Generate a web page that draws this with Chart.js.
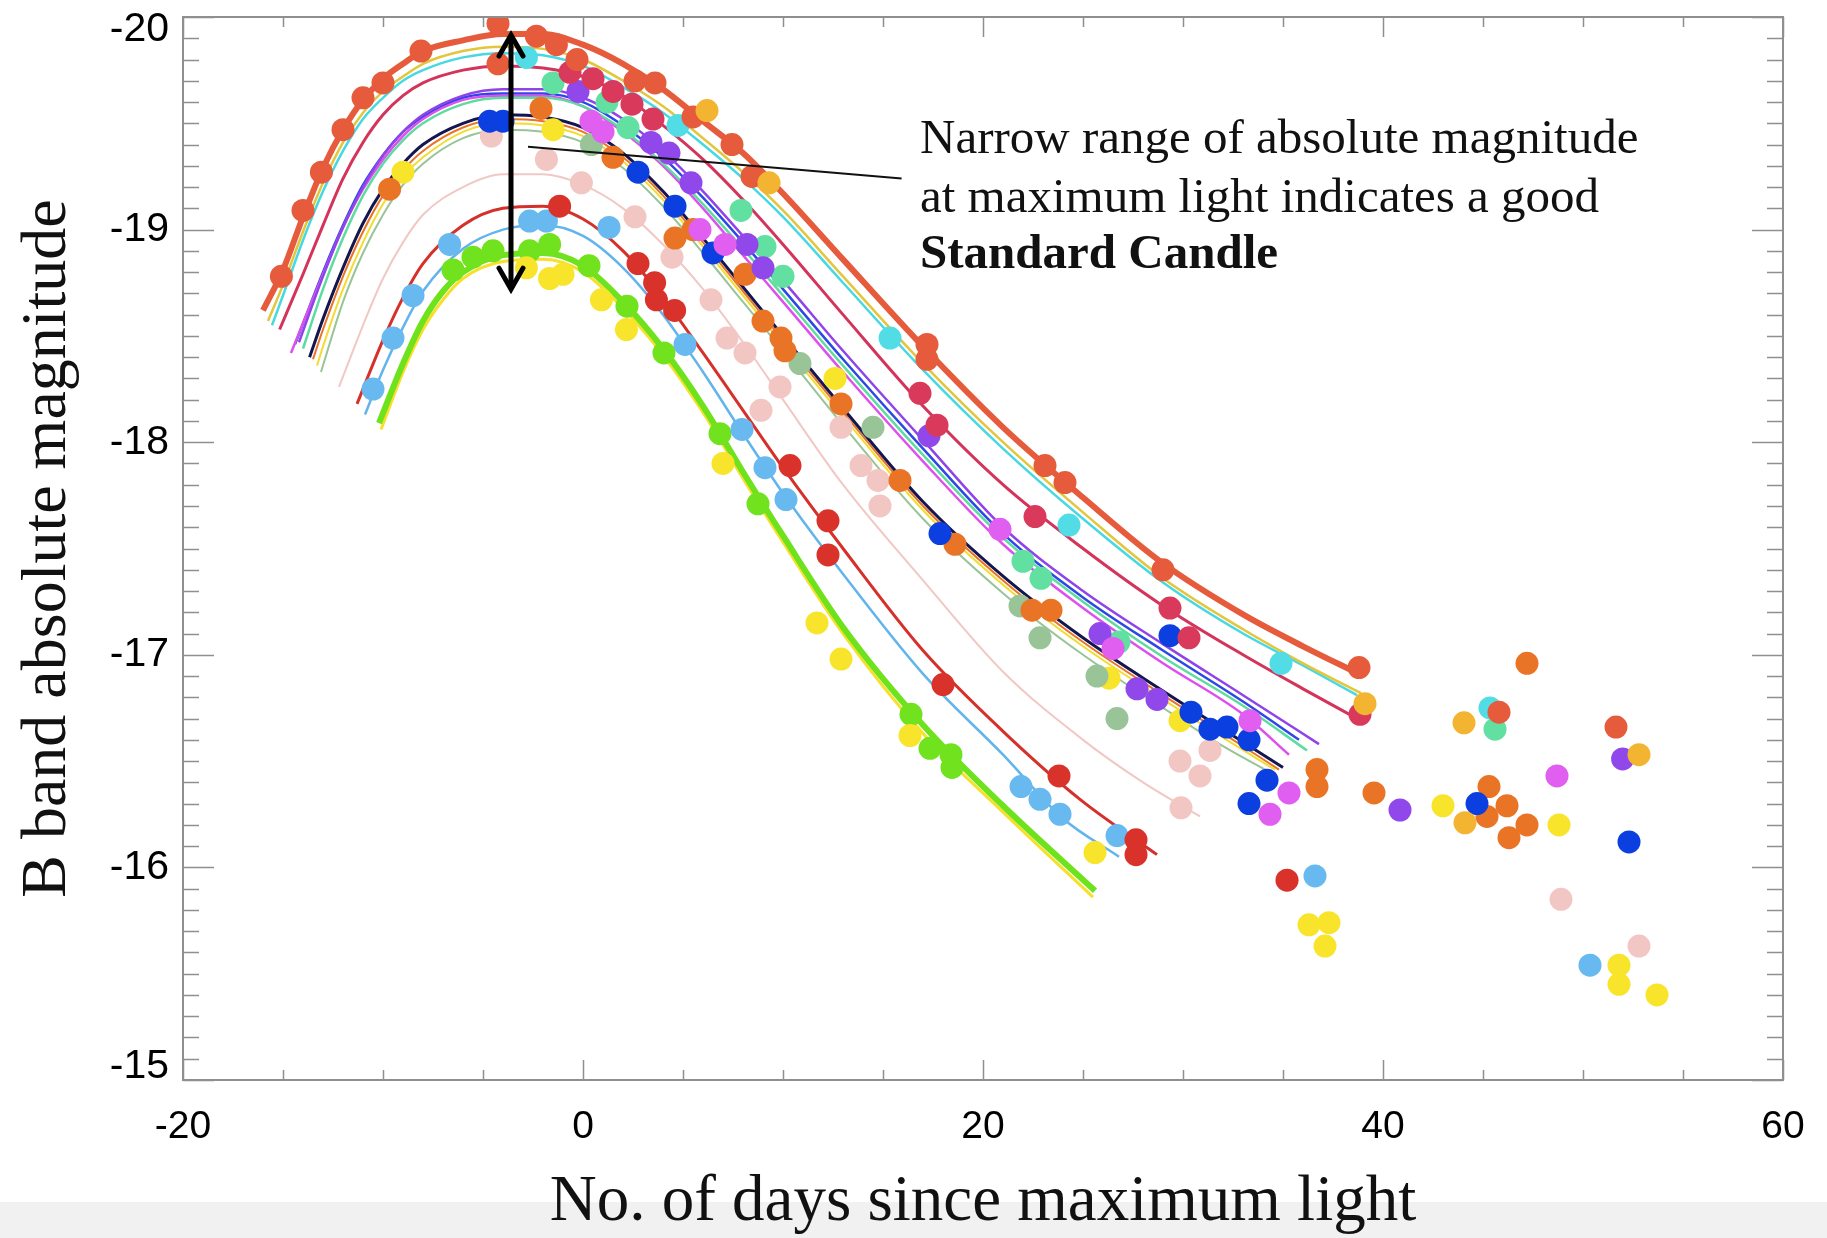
<!DOCTYPE html>
<html>
<head>
<meta charset="utf-8">
<script src="https://cdn.jsdelivr.net/npm/chart.js@4.4.1/dist/chart.umd.min.js"></script>
<style>
  html, body { margin: 0; padding: 0; background: #ffffff; }
  canvas { display: block; }
</style>
</head>
<body>
<canvas id="lightCurves" width="1827" height="1238"></canvas>
<script>
// ---- Axis ticks -------------------------------------------------------
const dayTicks = [-20, 0, 20, 40, 60];
const magTicks = [-20, -19, -18, -17, -16, -15];

// ---- Fitted light-curve templates: [day since maximum, B magnitude] ----
const tomatoFit = [[-16,-18.62],[-15,-18.81],[-14,-19.06],[-13,-19.29],[-12,-19.47],[-11,-19.61],[-10,-19.71],[-9,-19.78],[-8,-19.84],[-6,-19.89],[-4,-19.92],[-2,-19.92],[0,-19.87],[2,-19.78],[4,-19.66],[6,-19.51],[8,-19.36],[10,-19.17],[13,-18.86],[17,-18.45],[21,-18.07],[25,-17.74],[29,-17.43],[33,-17.19],[36,-17.04],[38.8,-16.91]];
const goldFit = [[-15.75,-18.57],[-15,-18.74],[-14,-18.99],[-13,-19.22],[-12,-19.41],[-11,-19.55],[-10,-19.65],[-9,-19.72],[-8,-19.78],[-6,-19.84],[-4,-19.86],[-2,-19.85],[0,-19.80],[2,-19.70],[4,-19.58],[6,-19.43],[8,-19.27],[10,-19.09],[13,-18.78],[17,-18.37],[21,-18.00],[25,-17.67],[29,-17.36],[33,-17.12],[36,-16.96],[38.9,-16.82]];
const cyanFit = [[-15.55,-18.55],[-15,-18.69],[-14,-18.95],[-13,-19.18],[-12,-19.37],[-11,-19.52],[-10,-19.62],[-9,-19.70],[-8,-19.75],[-6,-19.81],[-4,-19.83],[-2,-19.82],[0,-19.77],[2,-19.67],[4,-19.55],[6,-19.40],[8,-19.24],[10,-19.06],[13,-18.75],[17,-18.34],[21,-17.97],[25,-17.64],[29,-17.34],[33,-17.10],[36,-16.95],[38.7,-16.81]];
const crimsonFit = [[-15.17,-18.53],[-14,-18.79],[-13,-19.02],[-12,-19.24],[-11,-19.41],[-10,-19.54],[-9,-19.63],[-8,-19.69],[-6,-19.75],[-4,-19.77],[-2,-19.76],[0,-19.72],[2,-19.63],[4,-19.49],[6,-19.33],[8,-19.14],[10,-18.93],[13,-18.60],[17,-18.17],[21,-17.80],[25,-17.50],[29,-17.23],[33,-17.00],[36,-16.84],[38.9,-16.69]];
const magentaFit = [[-14.6,-18.42],[-13,-18.79],[-12,-19.01],[-11,-19.19],[-10,-19.33],[-9,-19.44],[-8,-19.52],[-6,-19.61],[-4,-19.63],[-2,-19.63],[0,-19.58],[2,-19.46],[4,-19.30],[6,-19.10],[8,-18.88],[10,-18.66],[13,-18.33],[17,-17.91],[21,-17.52],[25,-17.22],[29,-16.96],[33,-16.72],[35.3,-16.53]];
const blueFit = [[-14.4,-18.46],[-13,-18.80],[-12,-19.02],[-11,-19.21],[-10,-19.35],[-9,-19.46],[-8,-19.53],[-6,-19.62],[-4,-19.64],[-2,-19.64],[0,-19.60],[2,-19.49],[4,-19.34],[6,-19.15],[8,-18.94],[10,-18.72],[13,-18.39],[17,-17.97],[21,-17.57],[25,-17.27],[29,-17.02],[33,-16.78],[35.8,-16.60]];
const purpleFit = [[-14.2,-18.47],[-13,-18.78],[-12,-19.01],[-11,-19.20],[-10,-19.35],[-9,-19.46],[-8,-19.54],[-6,-19.63],[-4,-19.66],[-2,-19.66],[0,-19.62],[2,-19.52],[4,-19.37],[6,-19.18],[8,-18.97],[10,-18.76],[13,-18.43],[17,-18.01],[21,-17.60],[25,-17.30],[29,-17.05],[33,-16.81],[36.8,-16.58]];
const mintFit = [[-14.0,-18.44],[-13,-18.72],[-12,-18.96],[-11,-19.16],[-10,-19.31],[-9,-19.42],[-8,-19.50],[-6,-19.59],[-4,-19.62],[-2,-19.62],[0,-19.58],[2,-19.47],[4,-19.31],[6,-19.12],[8,-18.91],[10,-18.69],[13,-18.36],[17,-17.94],[21,-17.55],[25,-17.25],[29,-16.99],[33,-16.76],[36.2,-16.55]];
const navyFit = [[-13.67,-18.40],[-13,-18.58],[-12,-18.82],[-11,-19.03],[-10,-19.19],[-9,-19.31],[-8,-19.40],[-6,-19.50],[-4,-19.54],[-2,-19.53],[0,-19.48],[2,-19.36],[4,-19.18],[6,-18.96],[8,-18.73],[10,-18.50],[13,-18.16],[17,-17.72],[21,-17.37],[25,-17.08],[29,-16.83],[32,-16.65],[35,-16.47]];
const orangeFit = [[-13.5,-18.39],[-13,-18.53],[-12,-18.78],[-11,-18.99],[-10,-19.16],[-9,-19.28],[-8,-19.37],[-6,-19.48],[-4,-19.52],[-2,-19.51],[0,-19.46],[2,-19.34],[4,-19.16],[6,-18.94],[8,-18.71],[10,-18.48],[13,-18.14],[17,-17.70],[21,-17.35],[25,-17.06],[29,-16.81],[32,-16.63],[34.8,-16.46]];
const lemonFit = [[-13.3,-18.36],[-13,-18.45],[-12,-18.72],[-11,-18.94],[-10,-19.12],[-9,-19.25],[-8,-19.34],[-6,-19.46],[-4,-19.50],[-2,-19.49],[0,-19.44],[2,-19.32],[4,-19.14],[6,-18.92],[8,-18.69],[10,-18.46],[13,-18.12],[17,-17.68],[21,-17.33],[25,-17.04],[29,-16.79],[32,-16.61],[34.6,-16.46]];
const sageFit = [[-13.1,-18.33],[-12,-18.66],[-11,-18.89],[-10,-19.07],[-9,-19.21],[-8,-19.31],[-6,-19.43],[-4,-19.47],[-2,-19.46],[0,-19.41],[2,-19.29],[4,-19.11],[6,-18.89],[8,-18.66],[10,-18.43],[13,-18.08],[17,-17.64],[21,-17.29],[25,-17.00],[29,-16.75],[32,-16.57],[34.3,-16.45]];
const pinkFit = [[-12.2,-18.26],[-11,-18.55],[-10,-18.77],[-9,-18.94],[-8,-19.07],[-6,-19.20],[-4,-19.26],[-2,-19.26],[0,-19.21],[2,-19.10],[4,-18.93],[6,-18.72],[8,-18.47],[10,-18.20],[13,-17.80],[17,-17.35],[21,-16.92],[25,-16.60],[28,-16.40],[30.85,-16.24]];
const redFit = [[-11.3,-18.18],[-10,-18.48],[-9,-18.68],[-8,-18.84],[-6,-19.02],[-4,-19.10],[-2,-19.11],[0,-19.05],[2,-18.90],[4,-18.68],[6,-18.42],[8,-18.15],[10,-17.88],[13,-17.50],[17,-17.02],[21,-16.64],[24.85,-16.32],[28.7,-16.06]];
const skyFit = [[-10.9,-18.13],[-10,-18.34],[-9,-18.54],[-8,-18.71],[-6,-18.91],[-4,-19.00],[-2,-19.02],[0,-18.97],[2,-18.82],[4,-18.60],[6,-18.33],[8,-18.04],[10,-17.76],[13,-17.38],[17,-16.91],[21,-16.53],[24,-16.23],[26.8,-16.05]];
const greenFit = [[-10.2,-18.09],[-9,-18.37],[-8,-18.57],[-7,-18.71],[-6,-18.80],[-4,-18.88],[-2,-18.89],[0,-18.83],[2,-18.66],[4,-18.44],[6,-18.17],[8,-17.86],[10,-17.56],[13,-17.13],[17,-16.67],[21,-16.29],[25.6,-15.89]];
const yellowFit = [[-10.1,-18.06],[-9,-18.33],[-8,-18.53],[-7,-18.67],[-6,-18.77],[-4,-18.85],[-2,-18.86],[0,-18.80],[2,-18.63],[4,-18.41],[6,-18.14],[8,-17.83],[10,-17.53],[13,-17.10],[17,-16.63],[21,-16.26],[25.5,-15.86]];

// ---- Observed photometry: [day since maximum, B magnitude] ------------
const tomatoObs = [[-15.08,-18.78],[-14.0,-19.09],[-13.08,-19.27],[-12.0,-19.47],[-11.0,-19.62],[-10.0,-19.69],[-8.1,-19.84],[-4.25,-19.97],[-4.25,-19.78],[-2.33,-19.91],[-1.33,-19.87],[-0.3,-19.80],[2.6,-19.70],[3.6,-19.69],[5.5,-19.53],[7.45,-19.40],[8.45,-19.25],[17.2,-18.46],[17.2,-18.39],[23.1,-17.89],[24.1,-17.81],[29.0,-17.40],[38.8,-16.94],[45.8,-16.73],[51.65,-16.66]];
const goldObs = [[6.2,-19.56],[9.3,-19.22],[39.1,-16.77],[44.05,-16.68],[44.1,-16.21],[52.8,-16.53]];
const crimsonObs = [[-0.65,-19.74],[0.5,-19.71],[1.5,-19.65],[2.45,-19.59],[3.5,-19.52],[16.85,-18.23],[17.7,-18.08],[22.6,-17.65],[29.35,-17.22],[30.3,-17.08],[38.85,-16.72]];
const cyanObs = [[-2.83,-19.81],[4.75,-19.49],[15.35,-18.49],[24.3,-17.61],[34.9,-16.96],[45.35,-16.75]];
const mintObs = [[-1.5,-19.69],[1.2,-19.60],[2.25,-19.48],[7.9,-19.09],[9.1,-18.92],[10.0,-18.78],[22.0,-17.44],[22.9,-17.36],[26.8,-17.06],[45.6,-16.65]];
const purpleObs = [[-0.25,-19.65],[3.4,-19.41],[4.3,-19.36],[5.4,-19.22],[8.2,-18.93],[9.0,-18.82],[17.3,-18.03],[25.85,-17.10],[27.7,-16.84],[28.7,-16.79],[40.85,-16.27],[51.98,-16.51]];
const magentaObs = [[0.4,-19.51],[1.0,-19.46],[5.85,-19.00],[7.1,-18.93],[20.85,-17.59],[26.5,-17.03],[33.35,-16.69],[35.3,-16.35],[34.35,-16.25],[48.7,-16.43]];
const blueObs = [[-4.67,-19.51],[-4.0,-19.51],[2.75,-19.27],[4.6,-19.11],[6.5,-18.89],[17.85,-17.57],[29.35,-17.09],[30.4,-16.73],[31.35,-16.65],[32.2,-16.66],[33.3,-16.60],[34.2,-16.41],[33.3,-16.30],[44.7,-16.30],[52.3,-16.12]];
const orangeObs = [[-9.67,-19.19],[-2.1,-19.57],[1.5,-19.34],[4.6,-18.96],[5.5,-19.00],[8.1,-18.79],[9.0,-18.57],[9.9,-18.49],[10.1,-18.43],[12.9,-18.18],[15.85,-17.82],[18.6,-17.52],[22.45,-17.21],[23.4,-17.21],[36.7,-16.46],[36.7,-16.38],[39.55,-16.35],[45.3,-16.38],[45.2,-16.24],[46.2,-16.29],[47.2,-16.20],[46.3,-16.14],[47.2,-16.96]];
const yellowObs = [[-9.0,-19.27],[-1.5,-19.47],[-2.83,-18.82],[-1.67,-18.77],[-1.0,-18.79],[0.92,-18.67],[2.17,-18.53],[7.0,-17.90],[11.7,-17.15],[12.9,-16.98],[16.35,-16.62],[12.6,-18.30],[26.3,-16.89],[29.85,-16.69],[25.6,-16.07],[36.3,-15.73],[37.3,-15.74],[37.1,-15.63],[43.0,-16.29],[48.8,-16.20],[51.8,-15.54],[51.8,-15.45],[53.7,-15.40]];
const sageObs = [[0.42,-19.40],[10.85,-18.37],[14.5,-18.07],[21.85,-17.23],[22.85,-17.08],[25.7,-16.90],[26.7,-16.70]];
const pinkObs = [[-4.58,-19.44],[-1.83,-19.33],[-0.08,-19.22],[2.6,-19.06],[4.45,-18.87],[6.4,-18.67],[7.2,-18.49],[8.1,-18.42],[8.9,-18.15],[9.85,-18.26],[12.9,-18.07],[13.9,-17.89],[14.75,-17.82],[14.85,-17.70],[29.85,-16.50],[30.85,-16.43],[29.9,-16.28],[31.35,-16.55],[48.9,-15.85],[52.8,-15.63]];
const redObs = [[-1.17,-19.11],[2.75,-18.84],[3.58,-18.75],[3.67,-18.67],[4.58,-18.62],[10.35,-17.89],[12.25,-17.63],[12.25,-17.47],[18.0,-16.86],[23.8,-16.43],[27.65,-16.13],[27.65,-16.06],[35.2,-15.94]];
const skyObs = [[-10.5,-18.25],[-9.5,-18.49],[-8.5,-18.69],[-6.67,-18.93],[-2.67,-19.04],[-1.83,-19.04],[1.3,-19.01],[5.1,-18.46],[7.95,-18.06],[9.1,-17.88],[10.15,-17.73],[21.9,-16.38],[22.85,-16.32],[23.85,-16.25],[26.7,-16.15],[36.6,-15.96],[50.35,-15.54]];
const greenObs = [[-6.5,-18.81],[-5.5,-18.87],[-4.5,-18.90],[-2.67,-18.90],[-1.67,-18.93],[0.3,-18.83],[2.2,-18.64],[4.05,-18.42],[6.85,-18.04],[8.75,-17.71],[16.4,-16.72],[17.35,-16.56],[18.4,-16.53],[18.45,-16.47]];

// ---- Annotation: spread of peak magnitudes and its caption ------------
const spreadArrow = [[-3.6,-19.915],[-3.6,-18.72]];
const leaderLine = [[-2.75,-19.39],[15.93,-19.24]];
const noteDay = 16.85;
const noteMags = [-19.36, -19.084, -18.818];
const noteLines = ['Narrow range of absolute magnitude', 'at maximum light indicates a good', 'Standard Candle'];

const toXY = pairs => pairs.map(([x, y]) => ({ x, y }));
const magFirst = magTicks[0];
const magLast = magTicks[magTicks.length - 1];

function fitLine(pairs, color, width) {
  return {
    data: toXY(pairs), showLine: true, borderColor: color, borderWidth: width,
    pointRadius: 0, cubicInterpolationMode: 'monotone', fill: false, order: 2
  };
}
function obsDots(pairs, color) {
  return {
    data: toXY(pairs), showLine: false, backgroundColor: color, borderWidth: 0,
    pointRadius: 11.5, pointBorderWidth: 0, order: 1
  };
}

const datasets = [
  { data: toXY(spreadArrow), showLine: true, borderColor: '#000000', borderWidth: 5, pointRadius: 0, order: 0 },
  { data: toXY(leaderLine), showLine: true, borderColor: '#111111', borderWidth: 2, pointRadius: 0, order: 0 },

  obsDots(goldObs, '#f2b431'),
  obsDots(tomatoObs, '#e55b3c'),
  obsDots(crimsonObs, '#d93a5c'),
  obsDots(cyanObs, '#52dde6'),
  obsDots(magentaObs, '#e05ef0'),
  obsDots(purpleObs, '#9148ea'),
  obsDots(mintObs, '#62e0a2'),
  obsDots(blueObs, '#0b3fe0'),
  obsDots(orangeObs, '#ea7426'),
  obsDots(sageObs, '#98c498'),
  obsDots(yellowObs, '#f9e42c'),
  obsDots(pinkObs, '#f2c6c2'),
  obsDots(redObs, '#d8322a'),
  obsDots(skyObs, '#68b9f0'),
  obsDots(greenObs, '#70e21e'),

  fitLine(tomatoFit, '#e55b3c', 6),
  fitLine(goldFit, '#e2c63c', 2.5),
  fitLine(cyanFit, '#48d8e2', 2.5),
  fitLine(crimsonFit, '#d4335a', 3),
  fitLine(purpleFit, '#8f44ea', 2.5),
  fitLine(mintFit, '#5edca0', 2.5),
  fitLine(magentaFit, '#de50ee', 2.5),
  fitLine(blueFit, '#2c48e6', 2.5),
  fitLine(navyFit, '#15154f', 3),
  fitLine(orangeFit, '#ea7426', 2),
  fitLine(lemonFit, '#f2dc30', 2),
  fitLine(sageFit, '#98c498', 2),
  fitLine(pinkFit, '#f0c8c4', 2),
  fitLine(redFit, '#d6302a', 3),
  fitLine(skyFit, '#62b4ec', 2.5),
  fitLine(greenFit, '#6ee21c', 6),
  fitLine(yellowFit, '#f6e02a', 3)
];

// Background, plot frame, inward ticks, arrowheads and caption
const plotDecor = {
  id: 'plotDecor',
  beforeDraw(chart) {
    const { ctx, width, height } = chart;
    ctx.save();
    ctx.fillStyle = '#ffffff';
    ctx.fillRect(0, 0, width, height);
    ctx.fillStyle = '#f1f1f1';
    ctx.fillRect(0, 1202, width, height - 1202);
    ctx.restore();
  },
  afterDatasetsDraw(chart) {
    const { ctx, chartArea: a, scales: { x, y } } = chart;
    ctx.save();
    ctx.strokeStyle = '#8f8f8f';
    ctx.lineWidth = 1.5;
    ctx.beginPath();
    for (let i = 0; i <= 50; i++) {
      const v = magFirst + i * 0.1;
      const py = Math.round(y.getPixelForValue(v)) + 0.5;
      const len = i % 10 === 0 ? 31 : 16;
      ctx.moveTo(a.left, py); ctx.lineTo(a.left + len, py);
      ctx.moveTo(a.right, py); ctx.lineTo(a.right - len, py);
    }
    for (let v = dayTicks[0]; v <= dayTicks[dayTicks.length - 1]; v += 5) {
      const px = Math.round(x.getPixelForValue(v)) + 0.5;
      const len = v % 20 === 0 ? 20 : 10;
      ctx.moveTo(px, a.bottom); ctx.lineTo(px, a.bottom - len);
      ctx.moveTo(px, a.top); ctx.lineTo(px, a.top + len);
    }
    ctx.stroke();
    ctx.lineWidth = 2;
    ctx.strokeRect(a.left, a.top, a.right - a.left, a.bottom - a.top);

    // open arrowheads on the spread arrow
    const ax = x.getPixelForValue(spreadArrow[0][0]);
    const topY = y.getPixelForValue(spreadArrow[0][1]);
    const botY = y.getPixelForValue(spreadArrow[1][1]);
    ctx.strokeStyle = '#000000';
    ctx.lineWidth = 5;
    ctx.lineCap = 'round';
    ctx.lineJoin = 'miter';
    ctx.beginPath();
    ctx.moveTo(ax - 12, topY + 21); ctx.lineTo(ax, topY); ctx.lineTo(ax + 12, topY + 21);
    ctx.moveTo(ax - 12, botY - 21); ctx.lineTo(ax, botY); ctx.lineTo(ax + 12, botY - 21);
    ctx.stroke();

    // caption
    const tx = x.getPixelForValue(noteDay);
    ctx.fillStyle = '#111111';
    ctx.textAlign = 'left';
    ctx.textBaseline = 'alphabetic';
    noteLines.forEach((line, i) => {
      ctx.font = (i === 2 ? 'bold ' : '') + '49px "Liberation Serif", "Times New Roman", serif';
      ctx.fillText(line, tx, y.getPixelForValue(noteMags[i]));
    });
    ctx.restore();
  }
};

new Chart(document.getElementById('lightCurves'), {
  type: 'scatter',
  data: { datasets },
  plugins: [plotDecor],
  options: {
    responsive: false,
    devicePixelRatio: 1,
    animation: false,
    events: [],
    layout: { padding: { left: 0, top: 17, right: 44, bottom: 0 } },
    plugins: { legend: { display: false }, tooltip: { enabled: false } },
    scales: {
      x: {
        type: 'linear',
        min: dayTicks[0],
        max: dayTicks[dayTicks.length - 1],
        grid: { display: false, drawTicks: false },
        border: { display: false },
        afterBuildTicks: s => { s.ticks = dayTicks.map(v => ({ value: v })); },
        afterFit: s => { s.height = 158; },
        ticks: {
          padding: 0,
          color: '#000000',
          maxRotation: 0,
          font: { family: '"Liberation Sans", Arial, sans-serif', size: 39, lineHeight: 2.42 }
        },
        title: {
          display: true,
          text: 'No. of days since maximum light',
          color: '#111111',
          padding: { top: 0, bottom: 3 },
          font: { family: '"Liberation Serif", "Times New Roman", serif', size: 65, lineHeight: 1 }
        }
      },
      y: {
        type: 'linear',
        reverse: true,
        min: magFirst,
        max: magLast,
        grid: { display: false, drawTicks: false },
        border: { display: false },
        afterBuildTicks: s => { s.ticks = magTicks.map(v => ({ value: v })); },
        afterFit: s => { s.width = 183; s.paddingTop = 0; s.paddingBottom = 0; },
        ticks: {
          padding: 14,
          color: '#000000',
          // end labels sit just inside the frame
          callback: v => v === magFirst ? ['', String(v)] : (v === magLast ? [String(v), ''] : String(v)),
          font: c => {
            const v = c.tick ? c.tick.value : null;
            const edge = v === magFirst || v === magLast;
            return { family: '"Liberation Sans", Arial, sans-serif', size: 41, lineHeight: edge ? '26px' : 0.1 };
          }
        },
        title: {
          display: true,
          text: 'B band absolute magnitude',
          color: '#111111',
          padding: { top: 16, bottom: 0 },
          font: { family: '"Liberation Serif", "Times New Roman", serif', size: 64, lineHeight: 1 }
        }
      }
    }
  }
});
</script>
</body>
</html>
